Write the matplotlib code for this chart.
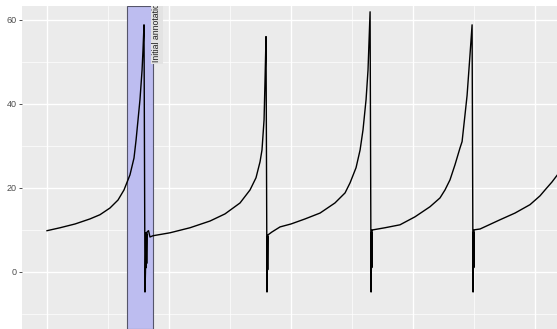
import numpy as np
import matplotlib
matplotlib.use("Agg")
import matplotlib.pyplot as plt
from matplotlib.ticker import MultipleLocator

plt.rcParams["font.family"] = ["Liberation Sans", "DejaVu Sans"]

# time (arbitrary units) and signal values
t = [0.0, 0.107, 0.23, 0.352, 0.434, 0.516, 0.582, 0.631, 0.68, 0.713, 0.73, 0.746,
     0.762, 0.779, 0.787, 0.795, 0.803, 0.807, 0.811, 0.813, 0.815, 0.817, 0.82,
     0.832, 0.844, 0.869,
     1.008, 1.172, 1.336, 1.459, 1.582, 1.664, 1.713, 1.746, 1.762, 1.779, 1.787,
     1.795, 1.803, 1.805, 1.807, 1.809, 1.811,
     1.844, 1.91, 2.0, 2.115, 2.238, 2.36, 2.443, 2.484, 2.533, 2.566, 2.59, 2.615,
     2.631, 2.648, 2.656, 2.658, 2.66, 2.662, 2.664, 2.672,
     2.77, 2.893, 3.016, 3.139, 3.221, 3.262, 3.303, 3.344, 3.385, 3.402, 3.426,
     3.443, 3.467, 3.484, 3.492, 3.494, 3.496, 3.498, 3.5,
     3.549, 3.713, 3.836, 3.959, 4.041, 4.082, 4.139, 4.189]
signal = [9.8, 10.5, 11.4, 12.6, 13.6, 15.2, 17.1, 19.5, 23.1, 27.1, 31.4, 36.2,
          41.0, 48.0, 53.0, 58.8, -4.8, 0.0, 9.3, 1.0, 9.0, 2.0, 9.5,
          9.8, 8.3, 8.6,
          9.3, 10.5, 12.1, 13.8, 16.4, 19.5, 22.4, 26.2, 29.0, 36.2, 45.7,
          56.0, -4.8, 0.0, 8.5, 0.5, 8.8,
          9.5, 10.7, 11.4, 12.6, 14.0, 16.4, 18.8, 21.2, 24.8, 29.0, 33.8, 41.0,
          48.0, 61.9, -4.8, 0.0, 9.5, 1.0, 10.0, 10.0,
          10.5, 11.2, 13.1, 15.5, 17.6, 19.5, 21.9, 25.5, 29.5, 31.0, 37.4,
          42.0, 51.7, 58.8, -4.8, 0.0, 9.5, 1.0, 10.0,
          10.2, 12.4, 14.0, 16.0, 18.1, 19.5, 21.4, 23.3]

# annotation window
ann_start = 0.656
ann_end = 0.869
ann_label = "Initial annotation"

fig = plt.figure(figsize=(5.57, 3.29), dpi=100)
ax = fig.add_axes([0.0395, 0.0, 0.9605, 0.982])
ax.set_facecolor("#EBEBEB")

ax.axvspan(ann_start, ann_end, facecolor="#BDBDF0", edgecolor="#55556A", lw=0.8, zorder=2)
ax.plot(t, signal, color="black", lw=1.0, zorder=3)
ax.text(ann_end + 0.032, 50, ann_label, rotation=90, ha="center", va="bottom",
        fontsize=6.3, color="#222222", clip_on=True, zorder=4,
        bbox=dict(boxstyle="square,pad=0.2", facecolor="#E3E3E3", edgecolor="none"))

ax.set_xlim(-0.205, 4.18)
ax.set_ylim(-13.6, 63.3)

ax.xaxis.set_major_locator(MultipleLocator(1))
ax.xaxis.set_minor_locator(MultipleLocator(0.5))
ax.yaxis.set_major_locator(MultipleLocator(20))
ax.yaxis.set_minor_locator(MultipleLocator(10))
ax.grid(which="major", color="white", lw=1.0)
ax.grid(which="minor", color="white", lw=0.5)
ax.set_axisbelow(True)

for s in ax.spines.values():
    s.set_visible(False)
ax.tick_params(axis="y", which="major", length=2.5, width=0.6, color="#333333",
               labelsize=6.5, labelcolor="#4D4D4D", pad=1.5)
ax.tick_params(axis="x", which="major", length=0, labelbottom=False)
ax.tick_params(which="minor", length=0)

fig.savefig("out.png", dpi=100)
